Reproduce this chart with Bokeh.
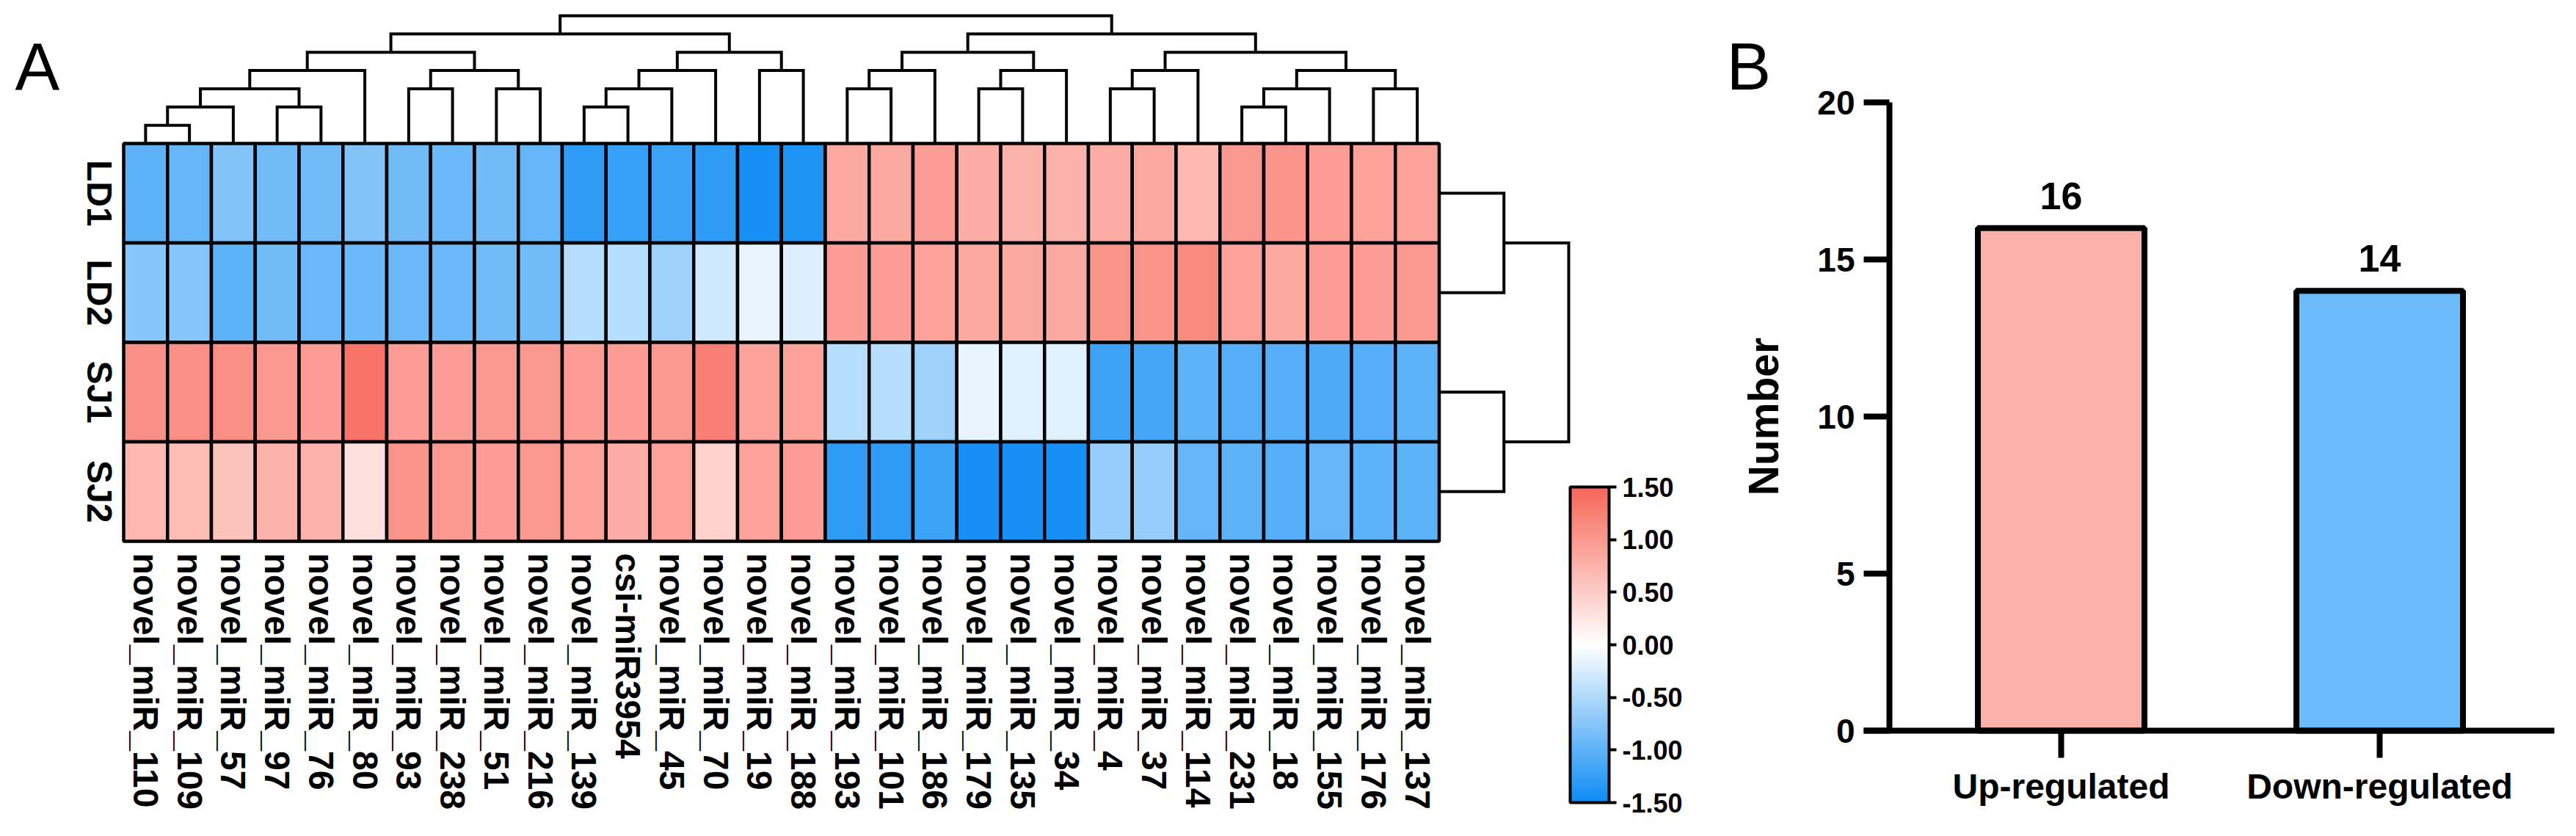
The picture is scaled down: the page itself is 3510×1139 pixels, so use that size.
import math
from bokeh.plotting import figure
from bokeh.models import (Range1d, LinearColorMapper, ColorBar, FixedTicker, LinearAxis,
                          PrintfTickFormatter, Label, ColumnDataSource)
from bokeh.embed import file_html
from bokeh.resources import INLINE
from bokeh.core.properties import value

# ---------------- data ----------------
mirnas = ["novel_miR_110", "novel_miR_109", "novel_miR_57", "novel_miR_97", "novel_miR_76",
          "novel_miR_80", "novel_miR_93", "novel_miR_238", "novel_miR_51", "novel_miR_216",
          "novel_miR_139", "csi-miR3954", "novel_miR_45", "novel_miR_70", "novel_miR_19",
          "novel_miR_188", "novel_miR_193", "novel_miR_101", "novel_miR_186", "novel_miR_179",
          "novel_miR_135", "novel_miR_34", "novel_miR_4", "novel_miR_37", "novel_miR_114",
          "novel_miR_231", "novel_miR_18", "novel_miR_155", "novel_miR_176", "novel_miR_137"]
samples = ["LD1", "LD2", "SJ1", "SJ2"]

ld1 = [-1.00, -0.95, -0.78, -0.88, -0.88, -0.78, -0.88, -0.92, -0.88, -0.95,
       -1.30, -1.25, -1.20, -1.30, -1.45, -1.40,
       0.85, 0.85, 0.95, 0.80, 0.75, 0.75, 0.80, 0.85, 0.70, 1.00, 1.05, 0.95, 0.90, 0.90]
ld2 = [-0.75, -0.75, -1.00, -0.88, -0.92, -0.92, -0.92, -0.92, -0.88, -0.88,
       -0.45, -0.45, -0.60, -0.30, -0.15, -0.22,
       0.95, 0.95, 0.90, 0.85, 0.85, 0.85, 1.05, 1.05, 1.15, 0.90, 0.85, 0.95, 0.95, 1.00]
sj1 = [1.10, 1.10, 1.10, 1.00, 0.95, 1.35, 0.95, 0.95, 1.00, 1.00,
       0.95, 0.95, 1.00, 1.25, 0.90, 0.90,
       -0.45, -0.45, -0.60, -0.15, -0.20, -0.20, -1.20, -1.15, -1.00, -1.05, -1.05, -1.10, -1.05, -1.00]
sj2 = [0.70, 0.65, 0.60, 0.75, 0.75, 0.30, 1.05, 1.00, 0.95, 1.00,
       0.90, 0.80, 0.90, 0.45, 0.90, 0.95,
       -1.30, -1.30, -1.20, -1.45, -1.45, -1.45, -0.65, -0.65, -0.95, -1.00, -1.05, -0.95, -1.00, -1.00]

# dendrogram merges: (child a, child b, level); leaves 0..n-1, merge k -> node n+k
col_merges = [(0, 1, 1), (30, 2, 2), (3, 4, 2), (31, 32, 3), (33, 5, 4),
              (6, 7, 3), (8, 9, 3), (35, 36, 4), (34, 37, 5),
              (10, 11, 2), (39, 12, 3), (40, 13, 4), (14, 15, 4), (41, 42, 5), (38, 43, 6),
              (16, 17, 3), (45, 18, 4), (19, 20, 3), (47, 21, 4), (46, 48, 5),
              (22, 23, 3), (50, 24, 4), (25, 26, 2), (52, 27, 3), (28, 29, 3), (53, 54, 4),
              (51, 55, 5), (49, 56, 6), (44, 57, 7)]
row_merges = [(0, 1, 1), (2, 3, 1), (4, 5, 2)]

cb_ticks = [-1.5, -1.0, -0.5, 0.0, 0.5, 1.0, 1.5]

categories = ["Up-regulated", "Down-regulated"]
counts = [16, 14]
count_ticks = [0, 5, 10, 15, 20]

# ---------------- styling / geometry (pixels) ----------------
FONT = "Liberation Sans"
BLUE = (14, 140, 245)
RED = (248, 102, 88)
W, H = 3494, 1123
CELL_W, CELL_H = 59.75, 135.5
HM_LEFT, HM_BOTTOM = 168, 737          # heatmap left edge / bottom edge (px from left / top)
LVL_C = 24.86                           # column dendrogram px per level
LVL_R = 88.25                           # row dendrogram px per level
BAR0_X, BAR_STEP = 2808, 434            # first bar centre px, px between bars
BAR_BASE_Y, PX_PER_COUNT = 995, 42.8    # bar baseline px from top, px per count
YAXIS_X = 2574                          # bar chart y axis px
XAXIS_L, XAXIS_R = 2539, 3480           # bar chart x axis line extent px


def lerp(c1, c2, t):
    return "#%02x%02x%02x" % tuple(int(round(a + (b - a) * t)) for a, b in zip(c1, c2))


palette = [lerp(BLUE, (255, 255, 255), i / 127) for i in range(128)] + \
          [lerp((255, 255, 255), RED, i / 127) for i in range(128)]
mapper = LinearColorMapper(palette=palette, low=-1.5, high=1.5)

n_cols, n_rows = len(mirnas), len(samples)

p = figure(width=W, height=H,
           x_range=Range1d(-HM_LEFT / CELL_W, (W - HM_LEFT) / CELL_W),
           y_range=Range1d(-(H - HM_BOTTOM) / CELL_H, HM_BOTTOM / CELL_H),
           x_axis_location=None, y_axis_location=None, toolbar_location=None,
           output_backend="svg", min_border=0, outline_line_color=None)
p.grid.visible = False

hm_top_px = HM_BOTTOM - n_rows * CELL_H
hm_right_px = HM_LEFT + n_cols * CELL_W
p.extra_y_ranges = {
    "cd": Range1d(-(H - hm_top_px) / LVL_C, hm_top_px / LVL_C),
    "by": Range1d(-(H - BAR_BASE_Y) / PX_PER_COUNT, BAR_BASE_Y / PX_PER_COUNT),
}
p.extra_x_ranges = {
    "rd": Range1d(-hm_right_px / LVL_R, (W - hm_right_px) / LVL_R),
    "bx": Range1d(-BAR0_X / BAR_STEP, (W - BAR0_X) / BAR_STEP),
}

# ---------------- panel A: heatmap ----------------
rows_vals = [ld1, ld2, sj1, sj2]
xs_c, ys_c, vals = [], [], []
for r, rv in enumerate(rows_vals):
    for c, v in enumerate(rv):
        xs_c.append(c + 0.5)
        ys_c.append(n_rows - r - 0.5)
        vals.append(v)
src = ColumnDataSource(dict(x=xs_c, y=ys_c, v=vals))
p.rect(x="x", y="y", width=1, height=1, source=src,
       fill_color={"field": "v", "transform": mapper}, line_color="black", line_width=4.5)


def dendro(merges, leaf_pos):
    pos = dict(enumerate(leaf_pos))
    hgt = {i: 0 for i in range(len(leaf_pos))}
    n = len(leaf_pos)
    a_s, b_s = [], []
    for k, (a, b, lv) in enumerate(merges):
        a_s.append([pos[a], pos[a], pos[b], pos[b]])
        b_s.append([hgt[a], lv, lv, hgt[b]])
        pos[n + k] = (pos[a] + pos[b]) / 2
        hgt[n + k] = lv
    return a_s, b_s


cxs, cys = dendro(col_merges, [c + 0.5 for c in range(n_cols)])
p.multi_line(xs=cxs, ys=cys, y_range_name="cd", line_color="black", line_width=4,
             line_join="miter")
rys, rxs = dendro(row_merges, [n_rows - r - 0.5 for r in range(n_rows)])
p.multi_line(xs=rxs, ys=rys, x_range_name="rd", line_color="black", line_width=4,
             line_join="miter")

p.text(x=[c + 0.5 for c in range(n_cols)], y=[0] * n_cols, text=mirnas,
       angle=-math.pi / 2, text_align="left", text_baseline="middle", y_offset=16,
       text_font=value(FONT), text_font_size="48px", text_font_style="bold", text_color="black")
p.text(x=[0] * n_rows, y=[n_rows - r - 0.5 for r in range(n_rows)], text=samples,
       angle=-math.pi / 2, text_align="center", text_baseline="middle", x_offset=-33,
       text_font=value(FONT), text_font_size="48px", text_font_style="bold", text_color="black")

cb = ColorBar(color_mapper=mapper, location=(2139, 30), width=53, height=430,
              orientation="vertical", padding=0, ticker=FixedTicker(ticks=cb_ticks),
              formatter=PrintfTickFormatter(format="%.2f"),
              major_label_text_font=FONT, major_label_text_font_size="36px",
              major_label_text_font_style="bold", major_label_text_color="black",
              bar_line_color="black", bar_line_width=4,
              major_tick_line_color="black", major_tick_line_width=4,
              major_tick_in=0, major_tick_out=10, minor_tick_line_color=None,
              label_standoff=8, border_line_color=None, background_fill_color=None)
p.add_layout(cb)

p.add_layout(Label(x=20, y=1033, x_units="screen", y_units="screen", text="A",
                   text_baseline="alphabetic",
                   text_font=FONT, text_font_size="91px", text_color="black"))

# ---------------- panel B: bar chart ----------------
idx = list(range(len(categories)))
p.vbar(x=idx, top=counts, width=227 / BAR_STEP, x_range_name="bx", y_range_name="by",
       fill_color=["#f9b1a9", "#69bcf9"], line_color="black", line_width=8)
p.text(x=idx, y=counts, text=[str(c) for c in counts], x_range_name="bx", y_range_name="by",
       y_offset=-44, text_align="center", text_baseline="alphabetic", text_font=value(FONT),
       text_font_size="52px", text_font_style="bold", text_color="black")

yax = LinearAxis(x_range_name="bx", y_range_name="by",
                 fixed_location=(YAXIS_X - BAR0_X) / BAR_STEP,
                 bounds=(count_ticks[0], count_ticks[-1]),
                 ticker=FixedTicker(ticks=count_ticks), axis_label="Number")
xax = LinearAxis(x_range_name="bx", y_range_name="by", fixed_location=0,
                 bounds=((XAXIS_L - BAR0_X) / BAR_STEP, (XAXIS_R - BAR0_X) / BAR_STEP),
                 ticker=FixedTicker(ticks=idx),
                 major_label_overrides={i: c for i, c in zip(idx, categories)})
for ax in (xax, yax):
    ax.axis_line_width = 8
    ax.axis_line_color = "black"
    ax.major_tick_line_width = 8
    ax.major_tick_line_color = "black"
    ax.major_tick_in = 0
    ax.minor_tick_line_color = None
    ax.major_label_text_font = FONT
    ax.major_label_text_font_style = "bold"
    ax.major_label_text_color = "black"
    ax.major_label_standoff = 12

yax.major_tick_out = 35
yax.major_label_text_font_size = "46px"
yax.axis_label_text_font = FONT
yax.axis_label_text_font_size = "57px"
yax.axis_label_text_font_style = "bold"
yax.axis_label_text_color = "black"
yax.axis_label_standoff = 38
xax.major_tick_out = 37
xax.major_label_text_font_size = "48px"
p.add_layout(yax, "left")
p.add_layout(xax, "below")

p.add_layout(Label(x=2352, y=1033, x_units="screen", y_units="screen", text="B",
                   text_baseline="alphabetic",
                   text_font=FONT, text_font_size="91px", text_color="black"))

open("out.html", "w").write(file_html(p, INLINE))
